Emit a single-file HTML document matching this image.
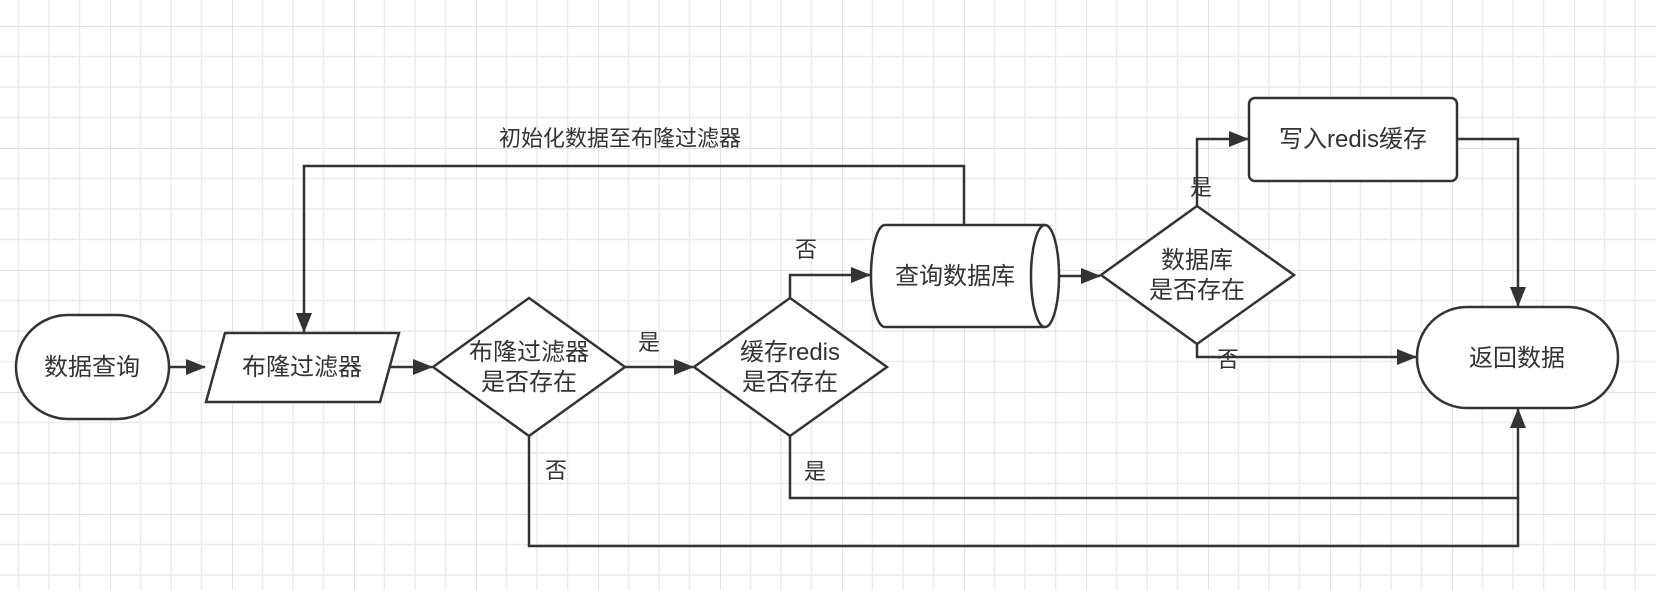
<!DOCTYPE html>
<html><head><meta charset="utf-8"><style>
html,body{margin:0;padding:0;background:#fff}
svg{display:block}
text{font-family:"Liberation Sans","Noto Sans CJK SC",sans-serif;fill:#333}
</style></head><body>
<svg width="1656" height="590" viewBox="0 0 1656 590" xmlns="http://www.w3.org/2000/svg">
<defs>
<pattern id="g" x="-12" y="26" width="122" height="122" patternUnits="userSpaceOnUse">
<path d="M30.5 0V122M61 0V122M91.5 0V122M0 30.5H122M0 61H122M0 91.5H122" stroke="#ebebeb" stroke-width="1.5" fill="none"/>
<path d="M0 0V122M0 0H122" stroke="#dedede" stroke-width="1.8" fill="none"/>
</pattern>
<marker id="a" markerWidth="20" markerHeight="16" refX="19" refY="8" orient="auto" markerUnits="userSpaceOnUse" viewBox="0 0 20 16">
<path d="M0,0 L20,8 L0,16 Z" fill="#333"/>
</marker>
</defs>
<rect width="1656" height="590" fill="#fff"/>
<rect width="1656" height="590" fill="url(#g)"/>
<g stroke="#333" stroke-width="2.5" fill="none">
<path d="M169 367H205" marker-end="url(#a)"/>
<path d="M390 367H432" marker-end="url(#a)"/>
<path d="M625 367H693" marker-end="url(#a)"/>
<path d="M790 298V275H870" marker-end="url(#a)"/>
<path d="M1059 276H1100" marker-end="url(#a)"/>
<path d="M1197 206V139H1248" marker-end="url(#a)"/>
<path d="M1197 344V357H1416" marker-end="url(#a)"/>
<path d="M1457 139H1518V306" marker-end="url(#a)"/>
<path d="M790 436V498H1518V409" marker-end="url(#a)"/>
<path d="M529 436V546H1518V498"/>
<path d="M964 225V166H304V332" marker-end="url(#a)"/>
</g>
<g stroke="#333" stroke-width="2.5" fill="#fff">
<rect x="16" y="315" width="153" height="104" rx="52"/>
<path d="M225 333H399L380 402H206Z"/>
<path d="M529 298L625 367L529 436L433 367Z"/>
<path d="M790 298L887 367L790 436L694 367Z"/>
<path d="M885 225H1045A14 51 0 0 1 1045 327H885A14 51 0 0 1 885 225Z"/>
<path d="M1045 225A14 51 0 0 0 1045 327" fill="none"/>
<path d="M1197 206L1294 275L1197 344L1101 275Z"/>
<rect x="1249" y="98" width="208" height="83" rx="6"/>
<rect x="1417" y="307" width="201" height="101" rx="50"/>
</g>
<g font-size="24" text-anchor="middle">
<text x="92" y="375">数据查询</text>
<text x="302" y="375">布隆过滤器</text>
<text x="529" y="360">布隆过滤器</text>
<text x="529" y="390">是否存在</text>
<text x="790" y="360">缓存redis</text>
<text x="790" y="390">是否存在</text>
<text x="955" y="284">查询数据库</text>
<text x="1197" y="268">数据库</text>
<text x="1197" y="298">是否存在</text>
<text x="1353" y="147">写入redis缓存</text>
<text x="1517" y="366">返回数据</text>
</g>
<g font-size="22" text-anchor="middle">
<text x="620" y="146">初始化数据至布隆过滤器</text>
<text x="649" y="350">是</text>
<text x="806" y="257">否</text>
<text x="1201" y="195">是</text>
<text x="1228" y="367">否</text>
<text x="815" y="479">是</text>
<text x="556" y="478">否</text>
</g>
</svg>
</body></html>
